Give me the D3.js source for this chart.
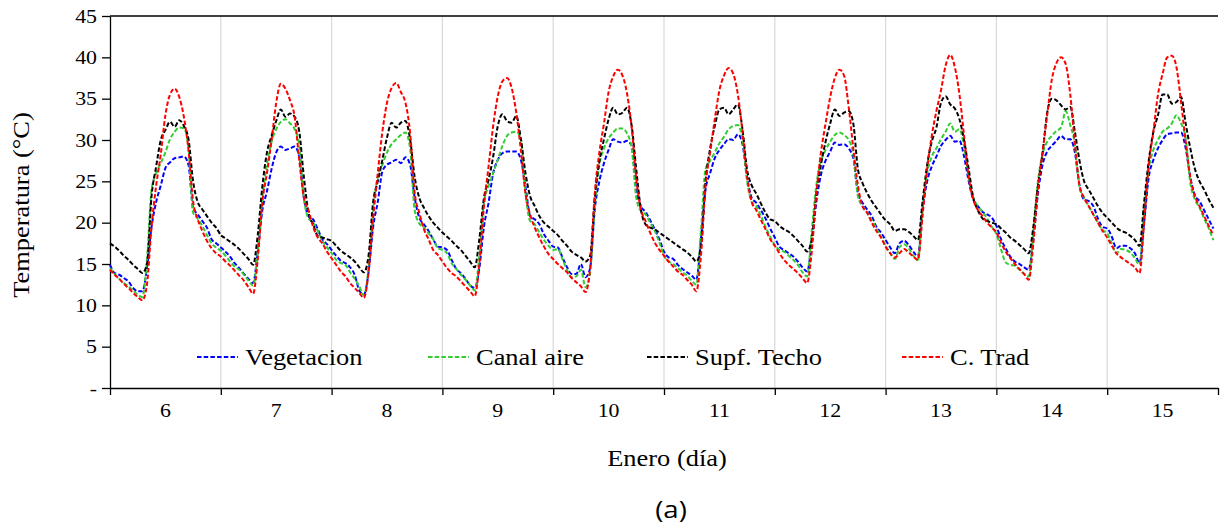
<!DOCTYPE html>
<html>
<head>
<meta charset="utf-8">
<script src="https://cdn.jsdelivr.net/npm/d3@7"></script>
</head>
<body style="margin:0;background:#fff">
<svg id="chart" width="1220" height="527" style="display:block;background:#fff"></svg>
<script>
// Days of January shown on the x axis; each day holds 24 hourly readings
const days = [6, 7, 8, 9, 10, 11, 12, 13, 14, 15];
const hoursPerDay = 24;

// Temperature axis
const yTicks = [0, 5, 10, 15, 20, 25, 30, 35, 40, 45];
const yTickLabels = ["-", "5", "10", "15", "20", "25", "30", "35", "40", "45"];

// Hourly temperatures (°C), one row per day
const vegetacion = [
  14.9, 13.9, 13.7, 13.3, 12.9, 12.1, 11.7, 11.7, 14.5, 19.5, 22.5, 24.5, 26.6, 27.3, 27.8, 27.9, 28.0, 27.0, 21.8, 21.0, 20.2, 19.4, 18.0, 17.5,
  17.0, 16.5, 15.9, 15.1, 14.5, 13.8, 13.2, 12.7, 16.5, 21.5, 23.8, 26.5, 28.5, 29.2, 28.8, 29.0, 29.2, 28.0, 23.0, 20.8, 20.4, 19.2, 18.0, 17.4,
  16.7, 16.0, 15.4, 15.1, 14.6, 13.7, 11.8, 11.3, 14.0, 19.5, 22.5, 26.2, 27.0, 27.3, 27.6, 27.2, 27.9, 27.0, 23.0, 20.6, 19.8, 19.0, 18.0, 17.1,
  17.0, 16.7, 15.5, 14.4, 13.9, 13.2, 12.4, 12.1, 14.5, 19.5, 22.4, 26.0, 27.6, 28.4, 28.6, 28.6, 28.6, 27.6, 24.4, 20.8, 20.4, 19.8, 18.6, 17.8,
  17.1, 17.0, 15.8, 14.6, 13.8, 13.8, 15.0, 13.4, 14.5, 21.6, 25.0, 27.2, 28.8, 30.1, 29.8, 29.7, 29.9, 29.3, 24.0, 22.0, 21.3, 20.3, 19.2, 18.0,
  16.5, 15.8, 15.6, 14.9, 14.4, 14.0, 13.6, 13.1, 18.0, 24.0, 26.0, 27.8, 28.8, 29.5, 30.1, 30.0, 30.7, 29.5, 25.5, 23.0, 22.4, 21.5, 20.5, 19.3,
  18.2, 17.1, 16.7, 16.3, 15.9, 15.3, 14.6, 14.1, 17.5, 22.5, 25.8, 27.5, 28.6, 29.7, 29.4, 29.5, 29.0, 27.8, 23.6, 22.4, 21.6, 20.8, 19.5, 18.8,
  17.9, 17.0, 16.3, 17.5, 17.8, 17.3, 16.5, 15.9, 21.5, 25.0, 26.8, 28.0, 29.3, 30.0, 30.5, 29.8, 29.9, 28.0, 25.0, 22.8, 22.0, 21.3, 21.0, 20.6,
  19.6, 18.0, 16.9, 15.9, 15.3, 15.0, 14.6, 14.3, 18.0, 23.5, 27.0, 28.6, 29.3, 29.9, 30.5, 30.1, 30.1, 28.5, 24.5, 22.8, 22.6, 22.0, 20.5, 19.5,
  19.3, 18.3, 16.9, 17.2, 17.2, 16.9, 16.3, 15.1, 20.0, 25.5, 27.6, 29.0, 30.0, 30.7, 30.8, 30.9, 30.9, 29.0, 25.5, 23.3, 22.6, 21.5, 20.4, 19.3
];

const canalAire = [
  14.5, 13.8, 13.2, 12.7, 12.3, 11.8, 11.3, 11.0, 15.5, 24.0, 26.0, 27.2, 28.5, 30.1, 31.0, 31.5, 31.4, 29.0, 21.2, 20.5, 19.6, 18.5, 17.5, 17.0,
  16.6, 16.0, 15.3, 14.7, 14.3, 13.7, 13.0, 12.4, 16.5, 23.0, 27.0, 29.8, 31.3, 32.2, 32.5, 32.0, 31.3, 29.3, 23.0, 20.5, 20.0, 19.0, 17.8, 17.0,
  16.3, 15.5, 15.1, 14.9, 14.0, 13.2, 12.3, 11.2, 14.5, 21.5, 25.5, 27.0, 28.5, 29.5, 30.1, 30.6, 30.9, 29.0, 21.5, 19.9, 19.4, 18.7, 18.0, 16.9,
  16.7, 16.3, 15.1, 14.4, 13.7, 13.1, 12.4, 11.8, 16.0, 22.4, 24.4, 26.0, 27.6, 29.3, 30.5, 30.9, 31.0, 30.1, 23.6, 20.2, 19.8, 18.8, 17.9, 17.2,
  16.7, 16.8, 15.6, 14.3, 13.4, 13.5, 14.3, 12.2, 14.0, 22.0, 27.0, 29.0, 30.2, 30.9, 31.4, 31.4, 30.8, 29.0, 23.0, 21.4, 21.0, 20.0, 19.0, 17.6,
  16.0, 15.3, 15.0, 14.5, 14.0, 13.6, 13.0, 12.5, 19.0, 26.5, 27.5, 28.5, 29.6, 30.4, 31.3, 31.7, 31.8, 30.0, 25.0, 22.5, 22.0, 20.8, 19.5, 18.3,
  17.3, 16.7, 16.5, 16.0, 15.5, 14.9, 14.0, 13.5, 19.0, 24.5, 27.5, 28.8, 29.8, 30.6, 30.9, 30.6, 30.0, 28.3, 23.2, 22.0, 21.2, 20.3, 19.3, 18.3,
  17.2, 16.3, 15.6, 17.0, 17.4, 16.9, 16.0, 15.5, 22.0, 26.0, 28.0, 29.0, 30.1, 31.0, 32.0, 31.0, 31.3, 29.2, 25.5, 23.0, 22.0, 21.3, 20.5, 19.5,
  18.6, 16.8, 15.2, 14.9, 14.8, 14.3, 13.8, 13.5, 19.0, 25.0, 28.3, 29.8, 30.5, 31.1, 31.5, 33.5, 31.8, 29.5, 24.3, 23.0, 22.0, 21.0, 20.0, 19.1,
  18.7, 17.5, 16.3, 16.8, 16.7, 16.4, 15.7, 14.9, 21.5, 26.5, 28.8, 30.0, 31.0, 31.4, 32.0, 33.0, 32.0, 30.2, 24.8, 22.8, 21.8, 20.5, 19.3, 17.9
];

const supfTecho = [
  17.5, 17.1, 16.6, 16.0, 15.5, 14.9, 14.4, 13.9, 15.0, 23.2, 26.8, 30.0, 31.2, 32.2, 31.6, 32.4, 31.7, 30.1, 25.0, 22.5, 21.6, 20.8, 20.0, 19.4,
  18.5, 18.1, 17.7, 17.3, 16.8, 16.2, 15.6, 14.9, 18.5, 24.4, 28.5, 30.5, 32.3, 33.7, 32.8, 33.2, 32.8, 31.0, 25.5, 21.2, 19.8, 18.4, 18.2, 18.0,
  17.8, 17.2, 16.6, 16.2, 15.8, 15.3, 14.6, 14.0, 16.0, 22.5, 25.0, 27.6, 30.3, 32.1, 31.5, 32.1, 32.3, 30.1, 25.5, 23.0, 21.8, 20.8, 20.0, 19.4,
  18.8, 18.3, 17.8, 17.2, 16.7, 16.0, 15.3, 14.6, 18.0, 23.0, 25.2, 28.0, 31.7, 33.1, 32.3, 32.1, 32.9, 30.1, 26.0, 23.2, 22.0, 20.8, 20.0, 19.5,
  19.0, 18.5, 17.8, 17.2, 16.5, 16.1, 15.8, 15.3, 16.0, 23.0, 27.4, 30.1, 32.5, 33.9, 33.1, 33.3, 33.9, 31.7, 26.4, 21.6, 19.8, 19.4, 19.2, 18.8,
  18.4, 18.0, 17.6, 17.2, 16.8, 16.4, 15.9, 15.3, 17.0, 25.0, 29.0, 31.7, 33.7, 33.9, 33.1, 33.7, 34.3, 31.3, 26.4, 24.5, 23.5, 22.3, 21.2, 20.4,
  20.2, 19.6, 19.2, 18.9, 18.4, 17.8, 17.2, 16.5, 18.0, 23.5, 27.0, 29.8, 32.0, 33.7, 32.9, 33.3, 33.5, 32.0, 26.5, 24.8, 23.6, 22.6, 21.8, 21.0,
  20.3, 19.8, 19.0, 19.2, 19.2, 18.9, 18.4, 17.9, 22.5, 27.0, 29.8, 31.5, 34.5, 35.3, 34.3, 33.8, 32.5, 30.0, 26.5, 23.0, 21.5, 20.5, 20.2, 20.0,
  19.8, 19.3, 18.8, 18.2, 17.8, 17.3, 16.8, 16.3, 19.5, 24.5, 28.4, 33.3, 35.0, 34.8, 34.2, 33.7, 34.0, 31.0, 27.5, 25.0, 24.0, 23.0, 22.0, 21.2,
  20.6, 20.0, 19.4, 19.0, 18.8, 18.4, 17.9, 17.2, 22.5, 27.5, 31.0, 33.0, 35.5, 35.5, 34.4, 34.6, 35.2, 32.0, 29.0, 26.5, 25.0, 24.0, 22.8, 21.8
];

const cTrad = [
  14.3, 13.7, 13.2, 12.6, 12.1, 11.5, 11.0, 10.6, 12.5, 19.5, 24.5, 28.3, 33.0, 35.5, 36.2, 35.2, 32.8, 28.8, 22.6, 20.4, 19.0, 17.8, 16.9, 16.3,
  15.9, 15.3, 14.8, 14.2, 13.6, 13.0, 12.2, 11.4, 15.5, 22.5, 26.0, 30.0, 34.5, 36.8, 36.2, 34.8, 32.8, 27.5, 23.0, 21.5, 19.5, 18.2, 17.5, 16.5,
  15.7, 14.9, 14.1, 13.5, 12.7, 12.1, 11.5, 10.9, 14.0, 20.5, 26.0, 31.0, 34.5, 36.3, 36.9, 35.8, 34.5, 30.9, 23.6, 21.2, 19.2, 18.0, 16.7, 16.1,
  15.3, 14.5, 13.9, 13.5, 12.9, 12.3, 11.7, 11.1, 15.0, 22.0, 26.8, 31.7, 35.3, 37.1, 37.5, 36.3, 33.3, 28.8, 23.5, 21.0, 19.4, 18.2, 17.1, 16.2,
  15.6, 15.0, 14.5, 14.0, 13.3, 12.8, 12.3, 11.6, 14.5, 23.5, 28.5, 32.0, 35.8, 37.7, 38.5, 37.8, 35.6, 31.5, 25.3, 21.6, 20.2, 18.8, 17.6, 16.7,
  16.0, 15.3, 14.7, 14.1, 13.7, 13.1, 12.5, 11.7, 16.0, 24.5, 28.5, 32.5, 36.0, 37.8, 38.7, 38.0, 35.5, 31.0, 25.5, 22.5, 21.5, 20.3, 19.2, 18.0,
  17.2, 16.3, 15.5, 14.9, 14.4, 13.9, 13.3, 12.7, 16.5, 23.5, 28.5, 32.0, 35.2, 37.5, 38.5, 37.8, 34.0, 29.0, 24.5, 22.0, 21.2, 20.0, 19.0, 18.2,
  17.1, 16.3, 15.8, 16.3, 16.8, 16.4, 15.9, 15.5, 20.8, 26.5, 30.5, 33.5, 36.0, 39.0, 40.3, 38.8, 35.5, 30.5, 25.5, 22.8, 21.5, 20.8, 20.0, 19.4,
  18.8, 17.6, 16.5, 15.7, 15.0, 14.4, 13.8, 13.1, 17.5, 24.0, 28.5, 33.0, 37.3, 39.3, 40.0, 39.2, 35.5, 29.5, 24.5, 23.0, 22.0, 21.0, 20.0, 19.0,
  18.2, 17.2, 16.3, 15.8, 15.4, 15.0, 14.6, 13.9, 20.0, 27.0, 31.0, 35.5, 38.0, 40.0, 40.2, 38.8, 34.6, 29.8, 25.5, 23.2, 22.0, 20.8, 19.6, 18.5
];

const seriesNames = ["Vegetacion", "Canal aire", "Supf. Techo", "C. Trad"];
const seriesColors = ["#0000ff", "#33cc33", "#000000", "#ff0000"];
const seriesValues = [vegetacion, canalAire, supfTecho, cTrad];

const SERIF = "'Liberation Serif'";
const STRETCH = 1.15;   // text is drawn slightly widened

const svg = d3.select("#chart");
const totalHours = days.length * hoursPerDay;

const x = d3.scaleLinear().domain([0, totalHours]).range([110, 1218]);
const y = d3.scaleLinear().domain([0, 45]).range([388, 16]);

// writes a widened text label anchored at (px, py)
function label(parent, px, py, txt, size, anchor, extra) {
  return parent.append("text")
    .attr("transform", `translate(${px},${py}) ${extra || ""} scale(${STRETCH},1)`)
    .attr("text-anchor", anchor)
    .style("font-family", SERIF)
    .style("font-size", size + "px")
    .style("fill", "#000")
    .text(txt);
}

// vertical day separators
svg.append("g")
  .selectAll("line")
  .data(d3.range(1, days.length))
  .join("line")
  .attr("x1", d => x(d * hoursPerDay))
  .attr("x2", d => x(d * hoursPerDay))
  .attr("y1", y(45))
  .attr("y2", y(0))
  .attr("stroke", "#d9d9d9")
  .attr("stroke-width", 1.2);

// top frame line
svg.append("line")
  .attr("x1", x(0)).attr("x2", x(totalHours))
  .attr("y1", y(45)).attr("y2", y(45))
  .attr("stroke", "#000").attr("stroke-width", 1.3);

// y axis (labels added separately so they can be widened)
const yAxis = d3.axisLeft(y)
  .tickValues(yTicks)
  .tickFormat("")
  .tickSize(8)
  .tickSizeOuter(0);
const gy = svg.append("g").attr("transform", `translate(${x(0)},0)`).call(yAxis);
gy.selectAll("line, path").attr("stroke", "#000").attr("stroke-width", 1.3);

const yLabels = svg.append("g");
yTicks.forEach((t, i) => label(yLabels, 97, y(t) + 6.5, yTickLabels[i], 19, "end"));

// x axis: ticks at day boundaries, labels centred on each day
const xAxis = d3.axisBottom(x)
  .tickValues(d3.range(0, days.length + 1).map(d => d * hoursPerDay))
  .tickFormat("")
  .tickSize(7)
  .tickSizeOuter(0);
const gx = svg.append("g").attr("transform", `translate(0,${y(0)})`).call(xAxis);
gx.selectAll("line, path").attr("stroke", "#000").attr("stroke-width", 1.3);

const xLabels = svg.append("g");
days.forEach((d, i) => label(xLabels, x(i * hoursPerDay + hoursPerDay / 2), 417, d, 19, "middle"));

// series lines
const line = d3.line()
  .x((d, i) => x(i))
  .y(d => y(d))
  .curve(d3.curveMonotoneX);

svg.append("g")
  .selectAll("path")
  .data(seriesValues)
  .join("path")
  .attr("d", d => line(d))
  .attr("fill", "none")
  .attr("stroke", (d, i) => seriesColors[i])
  .attr("stroke-width", 2)
  .attr("stroke-dasharray", "4.5,2.2");

// legend
const legendX = [197, 428, 647, 902];
const legend = svg.append("g");
seriesNames.forEach((name, i) => {
  legend.append("line")
    .attr("x1", legendX[i]).attr("x2", legendX[i] + 41)
    .attr("y1", 357).attr("y2", 357)
    .attr("stroke", seriesColors[i])
    .attr("stroke-width", 2)
    .attr("stroke-dasharray", "4.5,2.2");
  label(legend, legendX[i] + 48, 365, name, 23, "start");
});

// axis titles
label(svg, 29, 205, "Temperatura (°C)", 23, "middle", "rotate(-90)");
label(svg, 667, 466, "Enero (día)", 23, "middle");

svg.append("text")
  .attr("transform", `translate(671,518) scale(${STRETCH},1)`)
  .attr("text-anchor", "middle")
  .style("font-family", "'Open Sans'")
  .style("font-size", "24px")
  .style("fill", "#000")
  .text("(a)");
</script>
</body>
</html>
